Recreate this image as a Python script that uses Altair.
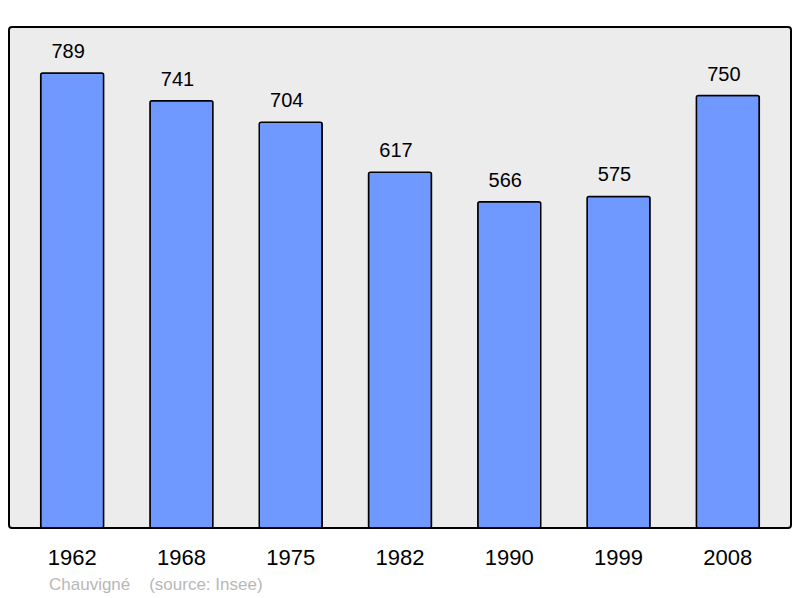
import pandas as pd
import altair as alt

# Population by census year
years = ["1962", "1968", "1975", "1982", "1990", "1999", "2008"]
population = [789, 741, 704, 617, 566, 575, 750]
caption = "Chauvigné\u00a0\u00a0\u00a0\u00a0(source: Insee)"

df = pd.DataFrame({"year": years, "pop": population})

font = "Liberation Sans"

base = alt.Chart(df).encode(
    x=alt.X(
        "year:N",
        sort=years,
        title=None,
        scale=alt.Scale(paddingInner=0.424, paddingOuter=0.29),
        axis=alt.Axis(
            domain=False,
            ticks=False,
            tickSize=0,
            grid=False,
            labelPadding=36,
            labelBaseline="alphabetic",
            labelFontSize=22,
            labelFont=font,
            labelColor="#000000",
            labelAngle=0,
        ),
    ),
    y=alt.Y("pop:Q", title=None, axis=None, scale=alt.Scale(domain=[0, 869], nice=False)),
)

bars = base.mark_bar(
    color="#7099ff", stroke="#000000", strokeWidth=1.5, cornerRadius=2
)

labels = base.mark_text(
    baseline="alphabetic", dy=-15, dx=-4, fontSize=20, font=font, color="#000000"
).encode(text="pop:Q")

# Caption under the axis labels
note = (
    alt.Chart(pd.DataFrame({"t": [caption]}))
    .mark_text(align="left", baseline="alphabetic", fontSize=17, font=font, color="#b8b8b8")
    .encode(text="t:N", x=alt.value(40), y=alt.value(563))
)

chart = (
    alt.layer(bars, labels, note)
    .properties(
        width=782,
        height=501,
        autosize=alt.AutoSizeParams(type="none"),
        padding={"left": 1, "top": 19, "right": 1, "bottom": 66},
    )
    .configure_view(fill="#ececec", stroke="#000000", strokeWidth=2, cornerRadius=3)
)

chart.save("out.html", embed_options={"renderer": "svg", "actions": False})
